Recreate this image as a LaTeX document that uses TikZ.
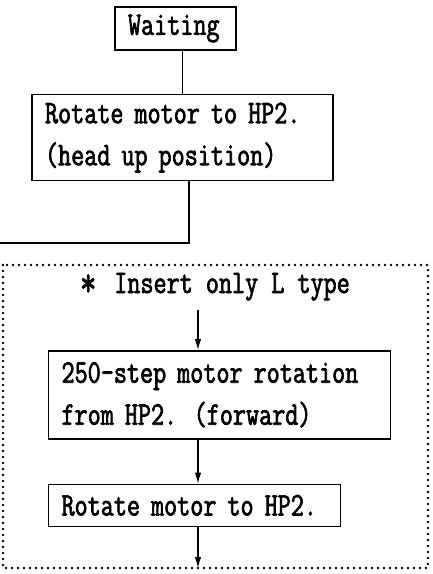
\documentclass[tikz,border=0pt]{standalone}
\usepackage{fontspec}
\newfontfamily\boxfont[FakeStretch=0.77,FakeBold=2]{Latin Modern Mono}
\usetikzlibrary{positioning,arrows.meta}

\begin{document}
\begin{tikzpicture}[x=1pt,y=1pt,
box/.style={rectangle, draw=black, line width=1.6pt, align=left, inner xsep=13pt, inner ysep=0pt, font=\boxfont\fontsize{33}{42}\selectfont},
link/.style={draw=black, line width=1.1pt},
flow/.style={-{Latex[length=11pt,width=6.5pt]}, line width=1.1pt},
dotframe/.style={line width=2.8pt, line cap=round, dash pattern=on 0pt off 6pt},
node distance=43pt
]
\useasboundingbox (0,0) rectangle (432,-574);

%Nodes
\node[box, text width=95pt, minimum height=43pt]  (wait)  at (175.5,-28.5)              {Waiting};
\node[box, text width=275pt, minimum height=86pt] (rotA)  [below=of wait, xshift=7pt]   {Rotate motor to HP2.\\(head up position)};

%Frame
\coordinate (frNW) at (3,-265);
\coordinate (frSE) at (428,-568);
\coordinate (exitL) at (0,-243);
\coordinate (spine) at (198,-310);
\node[font=\boxfont\fontsize{33}{42}\selectfont, inner sep=0pt, anchor=base west] (title) at (75,-293)
  {\makebox[26pt]{\raisebox{-3pt}{\scalebox{1.25}{*}}}\ Insert only L type};
\node[box, text width=316pt, minimum height=88pt] (stepA) [below=57pt of title.base, xshift=7pt] {250-step motor rotation\\from HP2. (forward)};
\node[box, text width=266pt, minimum height=42pt] (rotB)  [below=44pt of stepA.south west, anchor=north west] {Rotate motor to HP2.};

%Lines
\draw[link] (rotA.north |- wait.south) -- (rotA.north);
\draw[link] ([xshift=6.5pt]rotA.south) |- (exitL);
\draw[dotframe] (frNW) rectangle (frSE);
\draw[flow] (spine) -- (spine |- stepA.north);
\draw[flow] (spine |- stepA.south) -- (spine |- rotB.north);
\draw[flow] (spine |- rotB.south) -- (spine |- frSE);
\end{tikzpicture}
\end{document}
